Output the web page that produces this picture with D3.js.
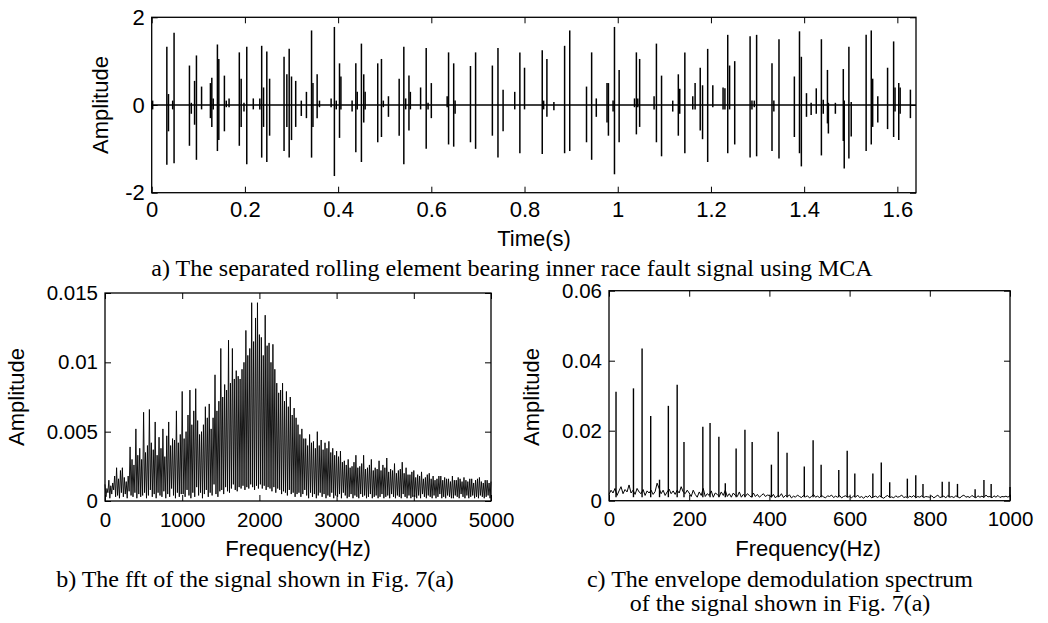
<!DOCTYPE html>
<html><head><meta charset="utf-8">
<script src="https://cdn.jsdelivr.net/npm/d3@7"></script>
<style>
body{margin:0;background:#fff;}
svg{display:block;}
.tk text{font-family:"Liberation Sans",Arial,sans-serif;fill:#000;}
.tk line{stroke:#000;stroke-width:1;}
.tk path{display:none;}
</style></head>
<body>
<script>
// ---------- data ----------
// (a) separated inner race fault signal: impulse bursts [time, positive peak, negative peak]
const sigTime = [0.002,0.0325,0.036,0.045,0.048,0.081,0.085,0.092,0.096,0.107,0.126,0.129,0.132,0.141,0.144,0.156,0.160,0.166,0.188,0.192,0.198,0.204,0.218,0.232,0.236,0.240,0.247,0.253,0.284,0.290,0.295,0.300,0.309,0.321,0.332,0.343,0.346,0.355,0.360,0.385,0.392,0.396,0.403,0.406,0.430,0.438,0.441,0.450,0.455,0.458,0.485,0.493,0.497,0.508,0.531,0.541,0.545,0.552,0.555,0.577,0.589,0.593,0.600,0.634,0.637,0.648,0.651,0.684,0.695,0.731,0.743,0.754,0.779,0.790,0.800,0.838,0.841,0.848,0.863,0.886,0.897,0.933,0.944,0.954,0.977,0.980,0.990,0.993,1.003,1.036,1.040,1.043,1.047,1.078,1.083,1.094,1.118,1.130,1.133,1.144,1.161,1.166,1.177,1.182,1.193,1.204,1.226,1.230,1.236,1.240,1.251,1.284,1.288,1.293,1.298,1.331,1.335,1.346,1.379,1.390,1.394,1.405,1.415,1.426,1.437,1.441,1.450,1.452,1.467,1.484,1.486,1.496,1.501,1.533,1.544,1.547,1.558,1.579,1.592,1.595,1.603,1.606,1.628];
const sigPos = [0.1,1.33,0.25,0.1,1.65,0.9,0.05,0.55,1.13,0.42,0.5,0.62,0.15,1.38,1.05,0.67,0.1,0.15,1.2,0.6,0.05,1.33,0.15,0.15,1.35,0.4,1.22,0.6,1.1,0.7,1.28,0.65,0.55,0.1,0.3,1.7,0.5,0.7,0.1,0.15,1.78,0.1,0.95,0.65,0.1,0.95,0.3,1.4,0.7,0.3,0.95,1.05,0.1,0.2,0.6,1.33,0.15,0.67,0.3,0.4,1.3,0.05,0.5,0.2,1.2,0.95,0.1,0.89,1.2,0.9,1.3,0.35,0.3,1.2,0.85,1.25,0.1,1.05,0.07,1.35,1.7,0.42,1.2,0.15,0.5,0.5,0.1,1.78,0.8,0.15,1.2,0.15,1.05,0.2,1.4,0.67,0.1,0.7,0.37,1.2,0.2,0.5,0.85,0.45,1.28,0.45,0.4,0.38,1.6,0.9,1.0,1.57,0.1,0.1,1.6,0.95,0.1,1.5,0.65,1.68,1.1,0.27,0.05,0.38,1.5,0.12,0.8,0.05,0.05,0.82,0.1,1.33,0.07,1.6,1.7,0.6,0.2,0.85,1.45,0.4,0.5,0.4,0.35];
const sigNeg = [-0.1,-1.36,-0.6,-0.1,-1.33,-0.93,-0.2,-0.45,-1.25,-0.1,-0.3,-0.5,-0.1,-1.05,-0.8,-0.6,-0.05,-0.05,-0.93,-0.5,-0.15,-1.35,-0.1,-0.1,-1.2,-0.5,-1.3,-0.7,-1.05,-0.5,-1.2,-0.8,-0.5,-0.25,-0.3,-1.2,-0.5,-0.3,-0.05,-0.05,-1.62,-0.1,-0.75,-0.1,-0.15,-1.08,-0.1,-1.3,-0.4,-0.1,-0.85,-0.73,-0.05,-0.27,-0.7,-1.35,-0.1,-0.58,-0.1,-0.1,-1.0,-0.1,-0.3,-0.05,-0.9,-0.95,-0.2,-0.85,-1.0,-0.7,-1.2,-0.6,-0.1,-1.1,-0.1,-1.12,-0.1,-0.27,-0.12,-1.1,-1.05,-0.85,-1.25,-0.27,-0.4,-0.7,-0.15,-1.58,-0.85,-0.05,-0.67,-0.05,-0.5,-0.1,-0.85,-1.17,-0.15,-0.7,-0.2,-1.1,-0.1,-0.1,-0.58,-0.78,-1.3,-0.05,-0.1,-0.1,-1.1,-0.1,-0.9,-1.2,-0.1,-0.05,-1.17,-1.05,-0.15,-1.22,-0.73,-1.1,-1.4,-0.27,-0.23,-0.2,-1.15,-0.2,-0.42,-0.65,-0.2,-0.82,-1.45,-1.22,-0.72,-1.05,-0.9,-0.5,-0.4,-0.55,-0.73,-0.15,-0.8,-0.2,-0.3];
const topXTicks = [0,0.2,0.4,0.6,0.8,1,1.2,1.4,1.6];
const topYTicks = [-2,0,2];

// (b) FFT spectrum: local peaks on a 25 Hz grid (0..5000) and the troughs between them
const fftStepHz = 25;
const fftPeaks = [
 .0012,.0009,.0015,.0011,.0013,.0018,.0024,.0016,.0022,.0024,.0017,.0014,.0018,.0039,.0030,.0026,.0052,.0033,.0038,.0030,
 .0064,.0035,.0040,.0066,.0042,.0037,.0057,.0033,.0046,.0038,.0052,.0032,.0047,.0057,.0040,.0045,.0044,.0065,.0042,.0048,
 .0079,.0045,.0050,.0062,.0080,.0055,.0065,.0081,.0058,.0048,.0050,.0055,.0068,.0060,.0070,.0052,.0060,.0091,.0065,.0072,
 .0110,.0075,.0084,.0080,.0116,.0085,.0110,.0088,.0094,.0090,.0088,.0095,.0100,.0123,.0105,.0110,.0143,.0115,.0132,.0143,
 .0120,.0118,.0105,.0134,.0112,.0114,.0100,.0113,.0095,.0085,.0078,.0080,.0085,.0072,.0079,.0068,.0075,.0062,.0067,.0060,
 .0055,.0048,.0052,.0045,.0045,.0040,.0048,.0042,.0043,.0038,.0050,.0040,.0044,.0037,.0042,.0038,.0043,.0035,.0038,.0033,
 .0036,.0032,.0036,.0028,.0029,.0026,.0030,.0024,.0025,.0028,.0033,.0024,.0025,.0027,.0033,.0023,.0024,.0026,.0030,.0022,
 .0024,.0023,.0029,.0022,.0026,.0024,.0031,.0021,.0023,.0022,.0027,.0020,.0022,.0023,.0028,.0020,.0024,.0019,.0019,.0021,
 .0022,.0017,.0019,.0018,.0021,.0016,.0017,.0019,.0020,.0016,.0018,.0015,.0016,.0018,.0018,.0015,.0017,.0016,.0016,.0014,
 .0018,.0015,.0015,.0017,.0016,.0014,.0017,.0015,.0014,.0016,.0016,.0013,.0015,.0016,.0017,.0014,.0013,.0015,.0015,.0013,.0014];
const fftTroughs = [
 .0003,.0006,.0002,.0005,.0008,.0003,.0004,.0002,.0006,.0003,.0005,.0002,.0007,.0004,.0003,.0006,.0002,.0005,.0003,.0004,
 .0006,.0002,.0004,.0008,.0003,.0005,.0002,.0006,.0004,.0003,.0007,.0002,.0005,.0003,.0009,.0004,.0002,.0006,.0003,.0005,
 .0005,.0003,.0008,.0004,.0002,.0006,.0003,.0010,.0004,.0006,.0002,.0005,.0008,.0003,.0006,.0004,.0012,.0005,.0003,.0007,
 .0008,.0005,.0010,.0007,.0006,.0009,.0012,.0008,.0007,.0010,.0009,.0011,.0008,.0010,.0009,.0012,.0010,.0008,.0011,.0009,
 .0012,.0009,.0011,.0008,.0010,.0009,.0007,.0010,.0006,.0009,.0008,.0005,.0007,.0006,.0004,.0008,.0005,.0006,.0003,.0005,
 .0006,.0003,.0005,.0008,.0004,.0002,.0006,.0003,.0005,.0002,.0004,.0006,.0003,.0005,.0002,.0004,.0003,.0006,.0002,.0004,
 .0003,.0005,.0002,.0006,.0004,.0002,.0003,.0005,.0002,.0004,.0003,.0002,.0005,.0003,.0004,.0002,.0003,.0005,.0002,.0003,
 .0004,.0002,.0003,.0005,.0002,.0003,.0004,.0002,.0005,.0003,.0002,.0004,.0003,.0002,.0005,.0003,.0002,.0004,.0002,.0003,
 .0003,.0002,.0004,.0002,.0005,.0003,.0002,.0004,.0003,.0002,.0004,.0002,.0003,.0005,.0002,.0003,.0002,.0004,.0003,.0002,
 .0002,.0004,.0003,.0002,.0005,.0003,.0002,.0004,.0002,.0003,.0004,.0002,.0003,.0002,.0004,.0003,.0002,.0003,.0004,.0002];
const fftXTicks = [0,1000,2000,3000,4000,5000];
const fftYTicks = [0,0.005,0.01,0.015];

// (c) envelope demodulation spectrum: spectral lines and noise floor (5 Hz grid)
const envLineHz = [17.5,61,82.5,104,126,148,170,187,234,252,274,290,317,339,357,405,422,444,487,509,529,573,594,613,658,679,700,744,765,783,831,848,869,913,935,953,1000];
const envLineAmp = [0.0311,0.0321,0.0435,0.0242,0.006,0.0271,0.0331,0.0168,0.0211,0.0222,0.0183,0.005,0.0149,0.0203,0.0168,0.0103,0.0197,0.0137,0.0098,0.0173,0.0103,0.0088,0.0143,0.0078,0.0078,0.0109,0.0053,0.0063,0.0073,0.0048,0.0054,0.0054,0.0048,0.0033,0.0059,0.0048,0.0039];
const envNoiseStepHz = 5;
const envNoise = [
 .0018,.0030,.0022,.0035,.0015,.0028,.0040,.0020,.0032,.0025,.0045,.0022,.0030,.0018,.0035,.0025,.0020,.0032,.0015,.0028,
 .0022,.0030,.0018,.0026,.0050,.0035,.0020,.0030,.0015,.0025,.0033,.0020,.0028,.0018,.0030,.0022,.0040,.0025,.0020,.0030,
 .0022,.0012,.0030,.0018,.0010,.0025,.0015,.0035,.0012,.0020,.0015,.0028,.0010,.0022,.0018,.0012,.0025,.0015,.0030,.0012,
 .0020,.0010,.0022,.0015,.0012,.0025,.0010,.0018,.0012,.0020,.0015,.0010,.0022,.0012,.0018,.0010,.0015,.0020,.0012,.0016,
 .0015,.0010,.0018,.0008,.0014,.0012,.0020,.0009,.0015,.0011,.0017,.0008,.0013,.0010,.0016,.0012,.0009,.0015,.0011,.0014,
 .0008,.0012,.0018,.0010,.0013,.0009,.0015,.0011,.0008,.0014,.0012,.0016,.0009,.0013,.0010,.0015,.0008,.0012,.0014,.0010,
 .0012,.0008,.0014,.0010,.0016,.0009,.0012,.0007,.0013,.0010,.0015,.0008,.0011,.0013,.0009,.0014,.0010,.0007,.0012,.0015,
 .0009,.0011,.0008,.0014,.0010,.0012,.0016,.0009,.0011,.0008,.0013,.0010,.0015,.0008,.0012,.0010,.0014,.0009,.0012,.0011,
 .0010,.0014,.0008,.0012,.0016,.0009,.0011,.0013,.0008,.0015,.0010,.0012,.0009,.0014,.0011,.0008,.0013,.0016,.0010,.0012,
 .0009,.0015,.0011,.0008,.0014,.0010,.0013,.0009,.0016,.0011,.0012,.0008,.0014,.0010,.0015,.0009,.0012,.0011,.0013,.0010,.0015];
const envXTicks = [0,200,400,600,800,1000];
const envYTicks = [0,0.02,0.04,0.06];

// ---------- drawing ----------
const svg = d3.select("body").append("svg").attr("width",1048).attr("height",623);
const SANS = '"Liberation Sans",Arial,sans-serif', SERIF = '"Liberation Serif","Times New Roman",serif';

function frame(x, y, xt, yt, fs, xpad){
  const [x0,x1] = x.range(), [y0,y1] = y.range();
  const g = svg.append("g");
  g.append("g").attr("class","tk").attr("transform",`translate(0,${y0})`)
    .call(d3.axisBottom(x).tickValues(xt).tickSizeInner(-6).tickSizeOuter(0).tickPadding(xpad).tickFormat(d=>String(d)))
    .selectAll("text").style("font-size",fs+"px");
  g.append("g").attr("class","tk").attr("transform",`translate(0,${y1})`)
    .call(d3.axisTop(x).tickValues(xt).tickSizeInner(-6).tickSizeOuter(0).tickFormat(""));
  g.append("g").attr("class","tk").attr("transform",`translate(${x0},0)`)
    .call(d3.axisLeft(y).tickValues(yt).tickSizeInner(-6).tickSizeOuter(0).tickPadding(7).tickFormat(d=>String(d)))
    .selectAll("text").style("font-size",fs+"px");
  g.append("g").attr("class","tk").attr("transform",`translate(${x1},0)`)
    .call(d3.axisRight(y).tickValues(yt).tickSizeInner(-6).tickSizeOuter(0).tickFormat(""));
  return g;
}
function box(x,y){
  const [x0,x1] = x.range(), [y0,y1] = y.range();
  svg.append("rect").attr("x",x0).attr("y",y1).attr("width",x1-x0).attr("height",y0-y1)
    .attr("fill","none").attr("stroke","#000").attr("stroke-width",1.3);
}
function label(txt,x,y,fs,opts={}){
  const t = svg.append("text").text(txt).attr("x",x).attr("y",y)
    .attr("font-family",opts.serif?SERIF:SANS).attr("font-size",fs).attr("text-anchor","middle").attr("fill","#000");
  if(opts.rot) t.attr("transform",`rotate(-90,${x},${y})`).attr("dominant-baseline","central");
  return t;
}

// (a)
const xa = d3.scaleLinear([0,1.64],[151.7,916]);
const ya = d3.scaleLinear([-2,2],[192.7,17.3]);
frame(xa,ya,topXTicks,topYTicks,22,9);
svg.append("line").attr("x1",xa(0)).attr("x2",xa(1.64)).attr("y1",ya(0)).attr("y2",ya(0))
  .attr("stroke","#000").attr("stroke-width",1.4);
svg.append("g").selectAll("line").data(sigTime).join("line")
  .attr("x1",(d)=>xa(d)).attr("x2",(d)=>xa(d))
  .attr("y1",(d,i)=>ya(sigNeg[i])).attr("y2",(d,i)=>ya(sigPos[i]))
  .attr("stroke","#000").attr("stroke-width",1.5);
box(xa,ya);
label("Amplitude",100,105,22,{rot:true});
label("Time(s)",534,246,22);
label("a) The separated rolling element bearing inner race fault signal using MCA",512,276,24,{serif:true});

// (b)
const xb = d3.scaleLinear([0,5000],[105,491]);
const yb = d3.scaleLinear([0,0.015],[501,293]);
frame(xb,yb,fftXTicks,fftYTicks,20.5,11);
const fftPts = [];
fftPeaks.forEach((v,i)=>{
  fftPts.push([i*fftStepHz, v]);
  if(i < fftTroughs.length) fftPts.push([i*fftStepHz + fftStepHz/2, fftTroughs[i]]);
});
svg.append("path").datum(fftPts)
  .attr("d", d3.line().x(d=>xb(d[0])).y(d=>yb(d[1])))
  .attr("fill","none").attr("stroke","#000").attr("stroke-width",0.9);
box(xb,yb);
label("Amplitude",16,397,22,{rot:true});
label("Frequency(Hz)",298,556,22);
label("b) The fft of the signal shown in Fig. 7(a)",255,587,24,{serif:true});

// (c)
const xc = d3.scaleLinear([0,1000],[609,1010]);
const yc = d3.scaleLinear([0,0.06],[500.7,290.7]);
frame(xc,yc,envXTicks,envYTicks,20.5,11);
svg.append("path").datum(envNoise)
  .attr("d", d3.line().x((d,i)=>xc(i*envNoiseStepHz)).y(d=>yc(d)))
  .attr("fill","none").attr("stroke","#000").attr("stroke-width",1);
svg.append("g").selectAll("line").data(envLineHz).join("line")
  .attr("x1",d=>xc(d)).attr("x2",d=>xc(d))
  .attr("y1",yc(0.001)).attr("y2",(d,i)=>yc(envLineAmp[i]))
  .attr("stroke","#000").attr("stroke-width",1.4);
box(xc,yc);
label("Amplitude",531,397,22,{rot:true});
label("Frequency(Hz)",808,556,22);
label("c) The envelope demodulation spectrum",780,587,24,{serif:true});
label("of the signal shown in Fig. 7(a)",780,611,24,{serif:true});
</script>
</body></html>
